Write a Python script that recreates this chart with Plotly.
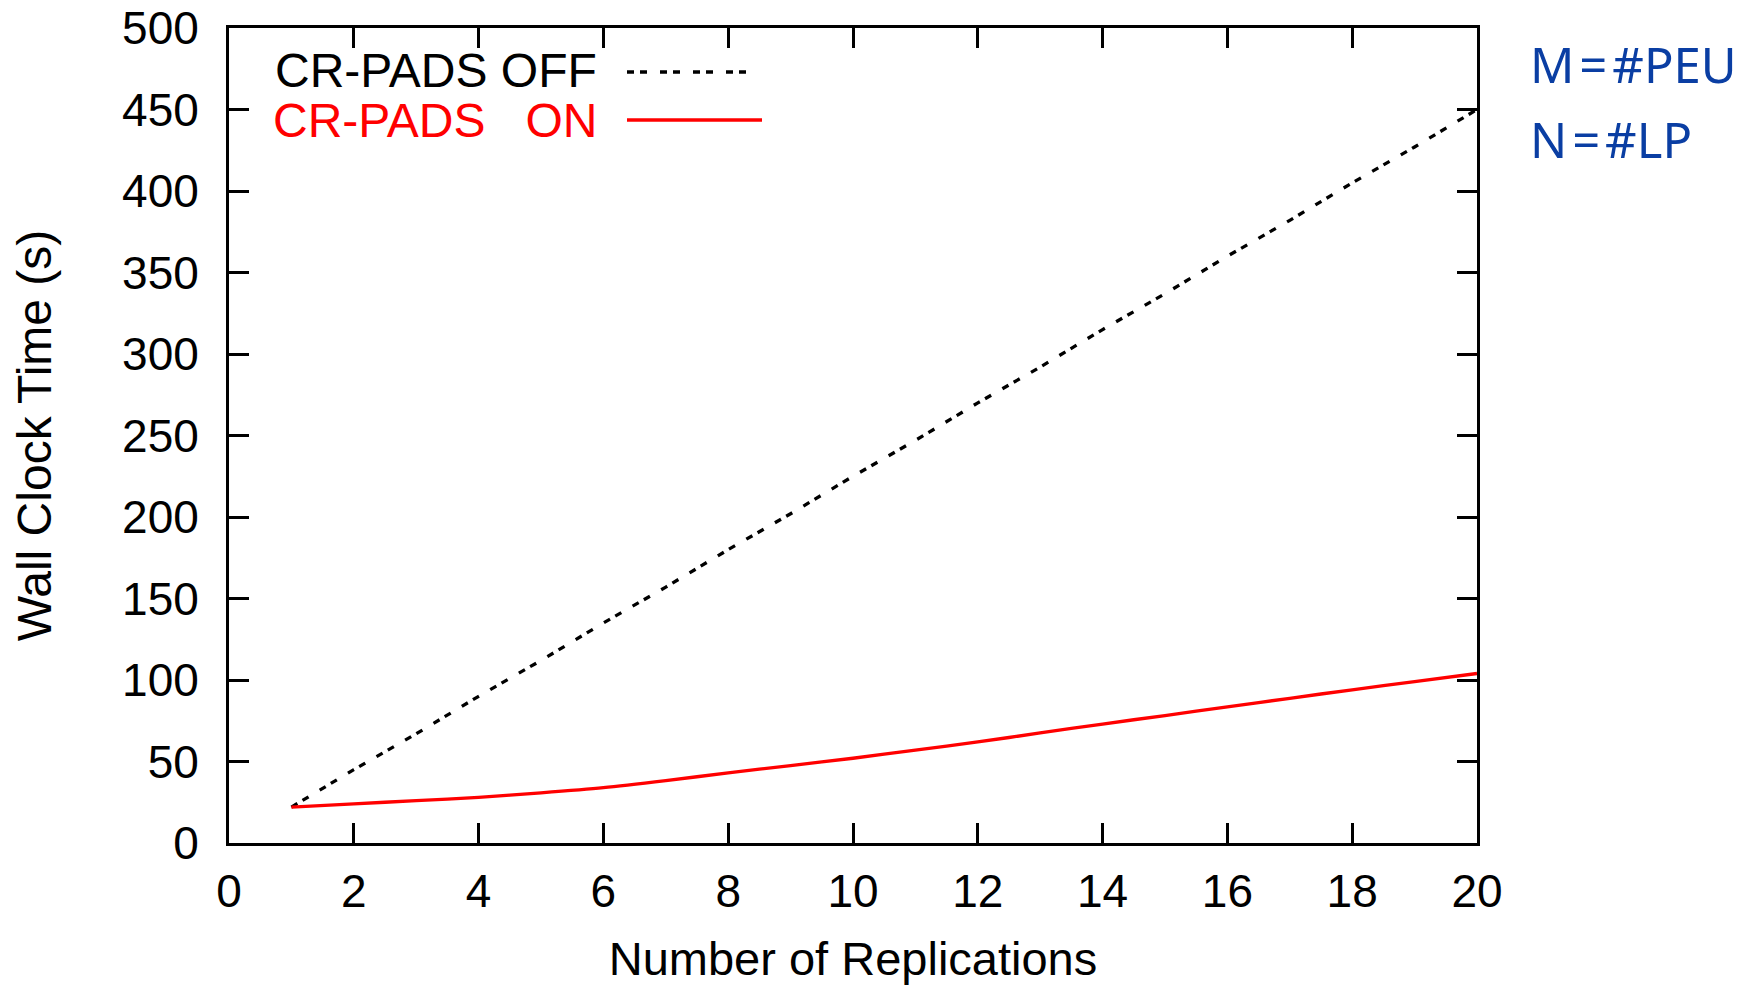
import plotly.graph_objects as go

replications = [1, 2, 3, 4, 5, 6, 7, 8, 9, 10, 11, 12, 13, 14, 15, 16, 17, 18, 19, 20]
time_off = [22, 45, 67, 90, 112, 135, 157, 180, 202, 225, 247, 270, 292, 315, 337, 360, 382, 405, 427, 450]
time_on = [22, 24, 26, 28, 30.8, 34, 38.3, 43, 47.5, 52, 57, 62, 67.5, 73, 78.2, 83.5, 88.8, 94, 99, 104]

# body margin is removed by the post script, so figure coordinates = page coordinates
W, H = 1751, 985
L, R, T, B = 229, 1477, 28, 843
FONT = "Liberation Sans, Arial, sans-serif"
DASH = "7px,6px,7px,13px"


def px(xp):
    return (xp - L) / (R - L)


def py(yp):
    return (B - yp) / (B - T)


fig = go.Figure()
fig.add_trace(go.Scatter(x=replications, y=time_off, mode="lines", name="CR-PADS OFF",
                         line=dict(color="black", width=3.3, dash=DASH)))
fig.add_trace(go.Scatter(x=replications, y=time_on, mode="lines", name="CR-PADS   ON",
                         line=dict(color="#ff0000", width=3.3, shape="spline", smoothing=0.8)))

axis_common = dict(showline=True, linecolor="black", linewidth=3, mirror="ticks",
                   ticks="inside", ticklen=20, tickwidth=3, tickcolor="black",
                   showgrid=False, zeroline=False, automargin=False,
                   ticklabeloverflow="allow",
                   tickfont=dict(family=FONT, size=46, color="black"))

fig.update_xaxes(range=[0, 20], dtick=2, tick0=0, ticklabelstandoff=6,
                 title=dict(text="Number of Replications", standoff=40,
                            font=dict(family=FONT, size=47, color="black")),
                 **axis_common)
fig.update_yaxes(range=[0, 500], dtick=50, tick0=0, ticklabelstandoff=18,
                 title=dict(text="Wall Clock Time (s)", standoff=56,
                            font=dict(family=FONT, size=48, color="black")),
                 **axis_common)

BLUE = "#0a3ea3"
annotations = [
    dict(text="CR-PADS OFF", x=px(599), y=py(70), xanchor="right", yanchor="middle",
         font=dict(family=FONT, size=48, color="black")),
    dict(text="CR-PADS   ON", x=px(599), y=py(120), xanchor="right", yanchor="middle",
         font=dict(family=FONT, size=48, color="#ff0000")),
    dict(text="M\u200a=\u200a#PEU", x=px(1528), y=py(64), xanchor="left", yanchor="middle",
         font=dict(family="Noto Sans, Open Sans, sans-serif", size=49, color=BLUE)),
    dict(text="N\u200a=\u200a#LP", x=px(1528), y=py(139), xanchor="left", yanchor="middle",
         font=dict(family="Noto Sans, Open Sans, sans-serif", size=49, color=BLUE)),
]
for a in annotations:
    a.update(xref="paper", yref="paper", showarrow=False)

shapes = [
    dict(type="line", xref="paper", yref="paper", x0=px(627), x1=px(750), y0=py(72), y1=py(72),
         line=dict(color="black", width=3.3, dash=DASH)),
    dict(type="line", xref="paper", yref="paper", x0=px(627), x1=px(762), y0=py(120), y1=py(120),
         line=dict(color="#ff0000", width=3.3)),
]

fig.update_layout(width=W, height=H, margin=dict(l=L, r=W - R, t=T, b=H - B, autoexpand=False),
                  paper_bgcolor="white", plot_bgcolor="white", showlegend=False,
                  annotations=annotations, shapes=shapes)

fig.write_html("out.html", config={"displayModeBar": False},
               post_script="document.body.style.margin='0';document.body.style.padding='0';"
                           "document.body.style.overflow='hidden';")
